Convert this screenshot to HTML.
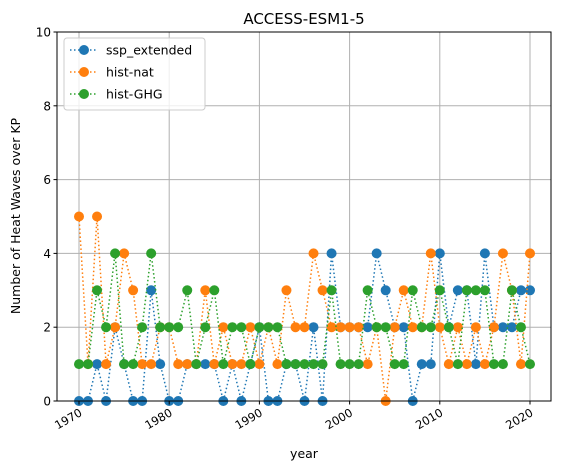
<!DOCTYPE html>
<html><head><meta charset="utf-8"><style>
body{margin:0;background:#fff;}
svg{font-family:"DejaVu Sans","Liberation Sans",sans-serif;}
</style></head><body>
<svg id="chart" width="562" height="471" viewBox="0 0 562 471">
<rect x="0" y="0" width="562" height="471" fill="#fff"/>
<g id="grid"></g><g id="series"></g><g id="axes"></g>
<text x="304" y="24" text-anchor="middle" font-size="15">ACCESS-ESM1-5</text>
<text x="304" y="458" text-anchor="middle" font-size="12.5">year</text>
<text transform="translate(20,216) rotate(-90)" text-anchor="middle" font-size="12.5">Number of Heat Waves over KP</text>
<g id="legend"></g>
</svg>
<script>
const years = [];
for (let y = 1970; y <= 2020; y++) years.push(y);
const sspExtended = [0,0,1,0,2,1,0,0,3,1,0,0,1,1,1,1,0,1,0,1,2,0,0,1,1,0,2,0,4,2,2,2,2,4,3,2,2,0,1,1,4,2,3,3,1,4,2,2,2,3,3];
const histNat = [5,1,5,1,2,4,3,1,1,2,2,1,1,1,3,1,2,1,1,2,1,2,1,3,2,2,4,3,2,2,2,2,1,2,0,2,3,2,2,4,2,1,2,1,2,1,2,4,3,1,4];
const histGHG = [1,1,3,2,4,1,1,2,4,2,2,2,3,1,2,3,1,2,2,1,2,2,2,1,1,1,1,1,3,1,1,1,3,2,2,1,1,3,2,2,3,2,1,3,3,3,1,1,3,2,1];
const xTicks = [1970,1980,1990,2000,2010,2020];
const yTicks = [0,2,4,6,8,10];
const seriesNames = ["ssp_extended","hist-nat","hist-GHG"];
const colors = ["#1f77b4","#ff7f0e","#2ca02c"];

const L=57,R=551,T=32,B=401;
const xs = v => 79 + (v-1970)*(530-79)/50;
const ys = v => B - v*(B-T)/10;
const NS="http://www.w3.org/2000/svg";
function mk(tag, attrs, parent){const e=document.createElementNS(NS,tag);for(const k in attrs)e.setAttribute(k,attrs[k]);parent.appendChild(e);return e;}
const grid=document.getElementById('grid'), axes=document.getElementById('axes'), ser=document.getElementById('series'), leg=document.getElementById('legend');

xTicks.forEach(t=>{
  const g=mk('line',{x1:xs(t),x2:xs(t),y1:T,y2:B,stroke:'#b0b0b0','stroke-width':1},grid);
  
  
  mk('line',{x1:xs(t),x2:xs(t),y1:B,y2:B+3.5,stroke:'#000','stroke-width':1},axes);
  const tx=mk('text',{x:0,y:0,'font-size':11.5,'text-anchor':'end',transform:`translate(${xs(t)+4},${B+14}) rotate(-30)`},axes);
  tx.textContent=t;
  
  
});
yTicks.forEach(t=>{
  const g=mk('line',{x1:L,x2:R,y1:ys(t),y2:ys(t),stroke:'#b0b0b0','stroke-width':1},grid);
  
  
  mk('line',{x1:L-3.5,x2:L,y1:ys(t),y2:ys(t),stroke:'#000','stroke-width':1},axes);
  const tx=mk('text',{x:L-6,y:ys(t)+4.5,'font-size':12,'text-anchor':'end'},axes);
  tx.textContent=t;
  
  
});
const frame=mk('rect',{x:L,y:T,width:R-L,height:B-T,fill:'none',stroke:'#000','stroke-width':1},axes);



[sspExtended,histNat,histGHG].forEach((vals,i)=>{
  const g=mk('g',{},ser);
  
  
  const pts=vals.map((v,j)=>xs(years[j])+','+ys(v)).join(' ');
  mk('polyline',{points:pts,fill:'none',stroke:colors[i],'stroke-width':1.5,'stroke-dasharray':'1.5 2.5'},g);
  vals.forEach((v,j)=>{
    const c=mk('circle',{cx:xs(years[j]),cy:ys(v),r:5,fill:colors[i]},g);
    
    
  });
});

const lb=mk('rect',{x:64,y:38,width:141,height:72,rx:3,fill:'#fff','fill-opacity':0.8,stroke:'#ccc','stroke-width':1},leg);
seriesNames.forEach((n,i)=>{
  const y=50+i*22;
  const e=mk('g',{},leg);
  
  
  mk('line',{x1:70,x2:98,y1:y,y2:y,stroke:colors[i],'stroke-width':1.5,'stroke-dasharray':'1.5 2.5'},e);
  mk('circle',{cx:84,cy:y,r:5,fill:colors[i]},e);
  const t=mk('text',{x:106,y:y+4.5,'font-size':12.5},e);
  t.textContent=n;
});
</script>
</body></html>
